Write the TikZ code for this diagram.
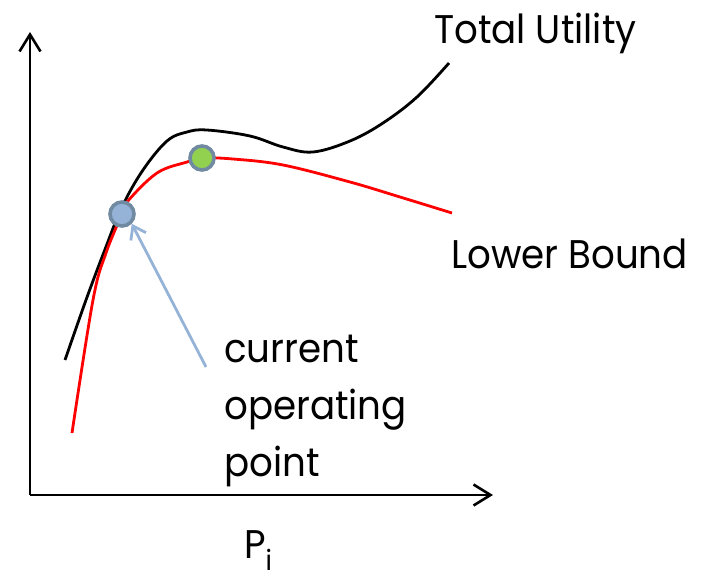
\documentclass[tikz,border=0pt]{standalone}
\usepackage{fontspec}
\setmainfont{Poppins}[FakeStretch=0.93]
\definecolor{dotblue}{RGB}{149,179,215}
\definecolor{dotgreen}{RGB}{146,208,80}
\definecolor{dotrim}{RGB}{112,138,162}
\usetikzlibrary{arrows.meta,positioning}

\begin{document}
\begin{tikzpicture}[x=1pt,y=-1pt,
  axis/.style={line width=2.6pt,-{Straight Barb[length=17pt,width=21pt,line width=2.6pt]}},
  curve/.style={line width=2.8pt,line join=round},
  dot/.style={circle,draw=dotrim,line width=3.6pt,minimum size=24pt,inner sep=0pt},
  lbl/.style={inner sep=0pt,font=\fontsize{40}{57}\selectfont,align=left}
]
  \useasboundingbox (0,0) rectangle (701,581);
  % axes
  \coordinate (o) at (30,495);
  \coordinate (ytip) at (30,32);
  \coordinate (xtip) at (493,495);
  \draw[axis] (o) -- (ytip);
  \draw[axis] (o) -- (xtip);
  % Total Utility
  \draw[curve,black] plot[smooth,tension=0.6] coordinates {(65,360) (86,300) (104,252) (122,207)
    (143,170) (167,141) (187,132) (207,130) (250,136) (283,147) (313,152)
    (350,141) (383,123) (417,97) (449,63)};
  % Lower Bound
  \draw[curve,red] plot[smooth,tension=0.6] coordinates {(72,433) (93,300) (106,253) (122,214)
    (127,202) (157,173) (187,162) (202,158) (233,159) (283,165)
    (350,182) (400,197) (452,213)};
  % operating points
  \node[dot,fill=dotgreen] (opt) at (202,158) {};
  \node[dot,fill=dotblue] (cur) at (122,214) {};
  % labels
  \node[lbl,anchor=base west] (tu) at (434,43) {Total Utility};
  \node[lbl,anchor=base west] (lb) at (451,268) {Lower Bound};
  \node[lbl,anchor=north west] (cop) at (224,335) {current\\operating\\point};
  \node[lbl,anchor=base west] (pi) at (244,558) {P\textsubscript{i}};
  % pointer to current operating point
  \coordinate (ptr) at (206,367);
  \draw[dotblue,line width=2.8pt,-{Straight Barb[length=12pt,width=17pt,line width=2.8pt]}]
    (ptr) -- (cur.south east);
\end{tikzpicture}
\end{document}
